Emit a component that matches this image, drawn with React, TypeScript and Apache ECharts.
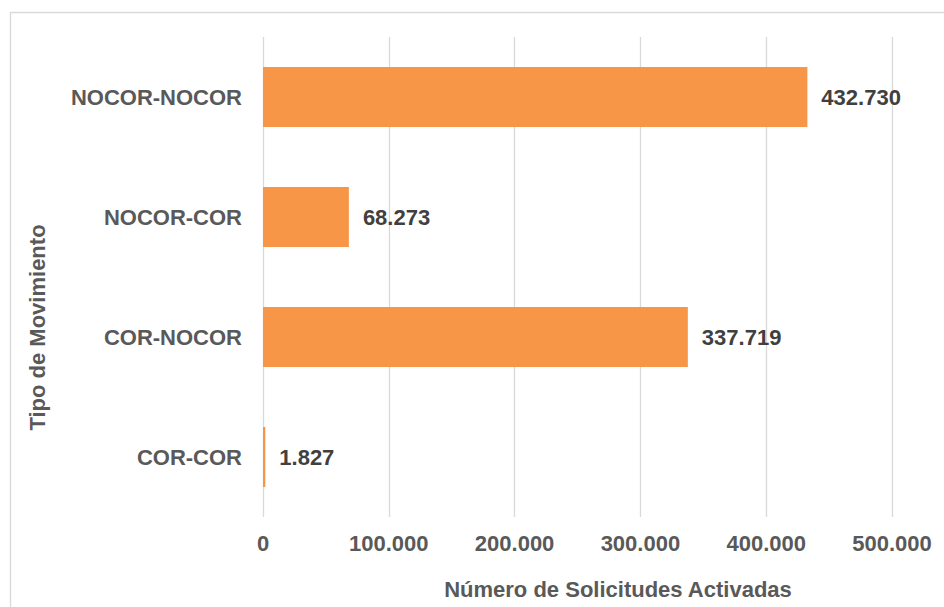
import React, { useEffect, useRef } from "react";
import * as echarts from "echarts";

const categories = ["COR-COR", "COR-NOCOR", "NOCOR-COR", "NOCOR-NOCOR"];
const values = [1827, 337719, 68273, 432730];
const xTicks = { min: 0, max: 500000, interval: 100000 };
const yAxisTitle = "Tipo de Movimiento";
const xAxisTitle = "Número de Solicitudes Activadas";

const fmt = (v: number) => String(Math.round(v)).replace(/\B(?=(\d{3})+(?!\d))/g, ".");

const FONT = "'Liberation Sans', Arial, sans-serif";
const FS = 22;

export default function App() {
  const ref = useRef<HTMLDivElement>(null);
  useEffect(() => {
    document.body.style.margin = "0";
    const chart = echarts.init(ref.current!, undefined, { renderer: "svg" });
    chart.setOption({
      animation: false,
      backgroundColor: "#ffffff",
      textStyle: { fontFamily: FONT },
      grid: { left: 263, right: 52, top: 37, bottom: 90, containLabel: false },
      xAxis: {
        type: "value",
        min: xTicks.min,
        max: xTicks.max,
        interval: xTicks.interval,
        axisLine: { show: false },
        axisTick: { show: false },
        splitLine: { show: true, lineStyle: { color: "#D9D9D9", width: 1.3 } },
        axisLabel: {
          formatter: (v: number) => fmt(v),
          color: "#595959",
          fontWeight: "bold",
          fontSize: FS,
          fontFamily: FONT,
          margin: 15,
        },
      },
      yAxis: {
        type: "category",
        data: categories,
        axisLine: { show: false },
        axisTick: { show: false },
        splitLine: { show: false },
        axisLabel: {
          color: "#595959",
          fontWeight: "bold",
          fontSize: FS,
          fontFamily: FONT,
          margin: 21,
        },
      },
      series: [
        {
          type: "bar",
          data: values,
          barWidth: "50%",
          itemStyle: { color: "#F79646" },
          label: {
            show: true,
            position: "right",
            distance: 14,
            formatter: (p: any) => fmt(p.value),
            color: "#404040",
            fontWeight: "bold",
            fontSize: FS,
            fontFamily: FONT,
          },
        },
      ],
      graphic: [
        {
          type: "rect",
          shape: { x: 10.5, y: 12.5, width: 960, height: 620 },
          style: { fill: "none", stroke: "#D9D9D9", lineWidth: 1.3 },
          silent: true,
        },
        {
          type: "text",
          x: 37,
          y: 327.5,
          rotation: Math.PI / 2,
          style: {
            text: yAxisTitle,
            fill: "#595959",
            font: `bold ${FS}px ${FONT}`,
            align: "center",
            verticalAlign: "middle",
          },
        },
        {
          type: "text",
          x: 618,
          y: 589,
          style: {
            text: xAxisTitle,
            fill: "#595959",
            font: `bold ${FS}px ${FONT}`,
            align: "center",
            verticalAlign: "middle",
          },
        },
      ],
    });
    return () => chart.dispose();
  }, []);
  return <div ref={ref} style={{ width: 944, height: 607 }} />;
}
